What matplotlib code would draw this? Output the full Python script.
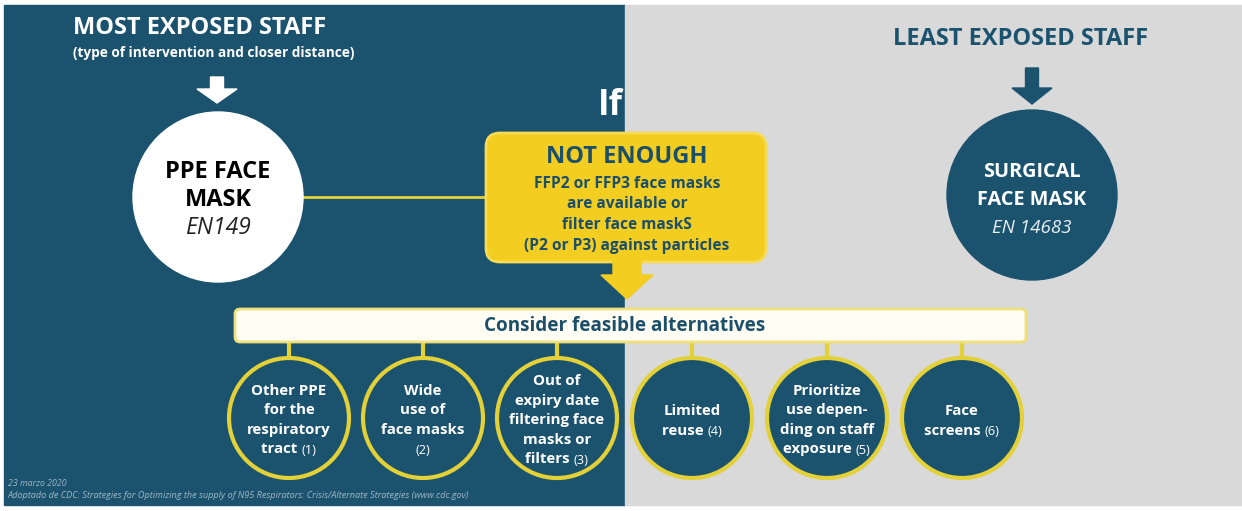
import matplotlib
matplotlib.use('Agg')
import matplotlib.pyplot as plt
from matplotlib.patches import Rectangle, Circle, FancyBboxPatch, Polygon

plt.rcParams['font.family'] = ['Open Sans', 'DejaVu Sans']

# texts of the diagram
left_title = 'MOST EXPOSED STAFF'
left_subtitle = '(type of intervention and closer distance)'
right_title = 'LEAST EXPOSED STAFF'
left_mask = ['PPE FACE', 'MASK']
left_norm = 'EN149'
right_mask = ['SURGICAL', 'FACE MASK']
right_norm = 'EN 14683'
box_title = 'NOT ENOUGH'
box_lines = ['FFP2 or FFP3 face masks', 'are available or',
             'filter face maskS', '(P2 or P3) against particles']
bar_text = 'Consider feasible alternatives'

# alternatives: lines of bold text, the last line ends with a reference number
alt_lines = [
    ['Other PPE', 'for the', 'respiratory', 'tract'],
    ['Wide', 'use of', 'face masks', ''],
    ['Out of', 'expiry date', 'filtering face', 'masks or', 'filters'],
    ['Limited', 'reuse'],
    ['Prioritize', 'use depen-', 'ding on staff', 'exposure'],
    ['Face', 'screens'],
]
alt_refs = ['(1)', '(2)', '(3)', '(4)', '(5)', '(6)']
footer = ['23 marzo 2020',
          'Adoptado de CDC: Strategies for Optimizing the supply of N95 '
          'Respirators: Crisis/Alternate Strategies (www.cdc.gov)']

DARK = '#1b536f'
GRAY = '#d9d9d9'
YELLOW = '#f3cd1f'
RING = '#e3d137'
TXT = '#1c4f6a'

fig = plt.figure(figsize=(12.42, 5.11), dpi=100)
ax = fig.add_axes([0, 0, 1, 1])
ax.set_xlim(0, 1242)
ax.set_ylim(511, 0)
ax.axis('off')
renderer = fig.canvas.get_renderer()


def down_arrow(cx, top, bottom, shaft, head, head_len, color):
    pts = [(cx - shaft / 2, top), (cx + shaft / 2, top),
           (cx + shaft / 2, bottom - head_len), (cx + head / 2, bottom - head_len),
           (cx, bottom), (cx - head / 2, bottom - head_len),
           (cx - shaft / 2, bottom - head_len)]
    ax.add_patch(Polygon(pts, closed=True, color=color, zorder=3))


def ref_line(x, y, main, ref, size, color):
    # bold text followed by a smaller normal reference, centred together
    t1 = ax.text(x, y, main + (' ' if main else ''), fontsize=size, fontweight='bold',
                 color=color, ha='left', va='center', zorder=6)
    t2 = ax.text(x, y + 1, ref, fontsize=size * 0.85, color=color,
                 ha='left', va='center', zorder=6)
    w1 = t1.get_window_extent(renderer).width
    w2 = t2.get_window_extent(renderer).width
    start = x - (w1 + w2) / 2
    t1.set_x(start)
    t2.set_x(start + w1)


# background panels
ax.add_patch(Rectangle((4, 5), 621, 500, color=DARK, zorder=0))
ax.add_patch(Rectangle((625, 5), 617, 500, color=GRAY, zorder=0))

# left side
ax.text(200, 28, left_title, fontsize=17, fontweight='bold', color='white',
        ha='center', va='center')
ax.text(214, 53, left_subtitle, fontsize=9.8, fontweight='bold', color='white',
        ha='center', va='center')
down_arrow(217, 77, 103, 13, 40, 14, 'white')
ax.add_patch(Circle((218, 197), 85, color='white', zorder=3))
ax.text(218, 172, left_mask[0], fontsize=17, fontweight='bold', color='black',
        ha='center', va='center', zorder=4)
ax.text(218, 200, left_mask[1], fontsize=17, fontweight='bold', color='black',
        ha='center', va='center', zorder=4)
ax.text(218, 228, left_norm, fontsize=16.5, style='italic', color='#222222',
        ha='center', va='center', zorder=4)
ax.plot([303, 487], [197, 197], color=RING, lw=2, zorder=2)

# right side
ax.text(1021, 39, right_title, fontsize=17, fontweight='bold', color=DARK,
        ha='center', va='center')
down_arrow(1032, 68, 104, 13, 40, 16, DARK)
ax.add_patch(Circle((1032, 195), 85, color=DARK, zorder=3))
ax.text(1032, 172, right_mask[0], fontsize=14.3, fontweight='bold', color='white',
        ha='center', va='center', zorder=4)
ax.text(1032, 200, right_mask[1], fontsize=14.3, fontweight='bold', color='white',
        ha='center', va='center', zorder=4)
ax.text(1032, 228, right_norm, fontsize=13.5, style='italic', color='#e8eef2',
        ha='center', va='center', zorder=4)

# centre box
ax.text(610, 106, 'If', fontsize=25, fontweight='bold', color='white',
        ha='center', va='center')
ax.add_patch(FancyBboxPatch((486, 133), 280, 129,
                            boxstyle='round,pad=0,rounding_size=14',
                            fc=YELLOW, ec='#f7db55', lw=2, zorder=3))
down_arrow(627, 258, 299, 28, 52, 24, YELLOW)
ax.text(627, 157, box_title, fontsize=17, fontweight='bold', color=TXT,
        ha='center', va='center', zorder=4)
for i, line in enumerate(box_lines):
    ax.text(627, 184 + i * 20.5, line, fontsize=11.2, fontweight='bold', color=TXT,
            ha='center', va='center', zorder=4)

# alternatives bar
ax.add_patch(FancyBboxPatch((235, 309), 791, 33,
                            boxstyle='round,pad=0,rounding_size=5',
                            fc='#fffdf4', ec='#efe07a', lw=2, zorder=3))
ax.text(625, 326, bar_text, fontsize=13.6, fontweight='bold', color=TXT,
        ha='center', va='center', zorder=4)

centres = [289, 423, 557, 692, 827, 962]
cy, r = 418, 60
for k, (cx, lines, ref) in enumerate(zip(centres, alt_lines, alt_refs)):
    ax.plot([cx, cx], [342, cy - r], color=RING, lw=3, zorder=2)
    ax.add_patch(Circle((cx, cy), r, fc=DARK, ec=RING, lw=3, zorder=3))
    n = len(lines)
    step = 19.5
    y0 = cy - step * (n - 1) / 2 + (3 if n == 2 else 2)
    for j, line in enumerate(lines):
        y = y0 + j * step
        if j == n - 1:
            ref_line(cx, y, line, ref, 10.8, 'white')
        else:
            ax.text(cx, y, line, fontsize=10.8, fontweight='bold', color='white',
                    ha='center', va='center', zorder=6)

# footer
ax.text(8, 483, footer[0], fontsize=6.3, style='italic', color='#9fb6c4',
        ha='left', va='center')
ax.text(8, 496, footer[1], fontsize=6.6, style='italic', color='#9fb6c4',
        ha='left', va='center')

fig.savefig('out.png', dpi=100, facecolor='white')
